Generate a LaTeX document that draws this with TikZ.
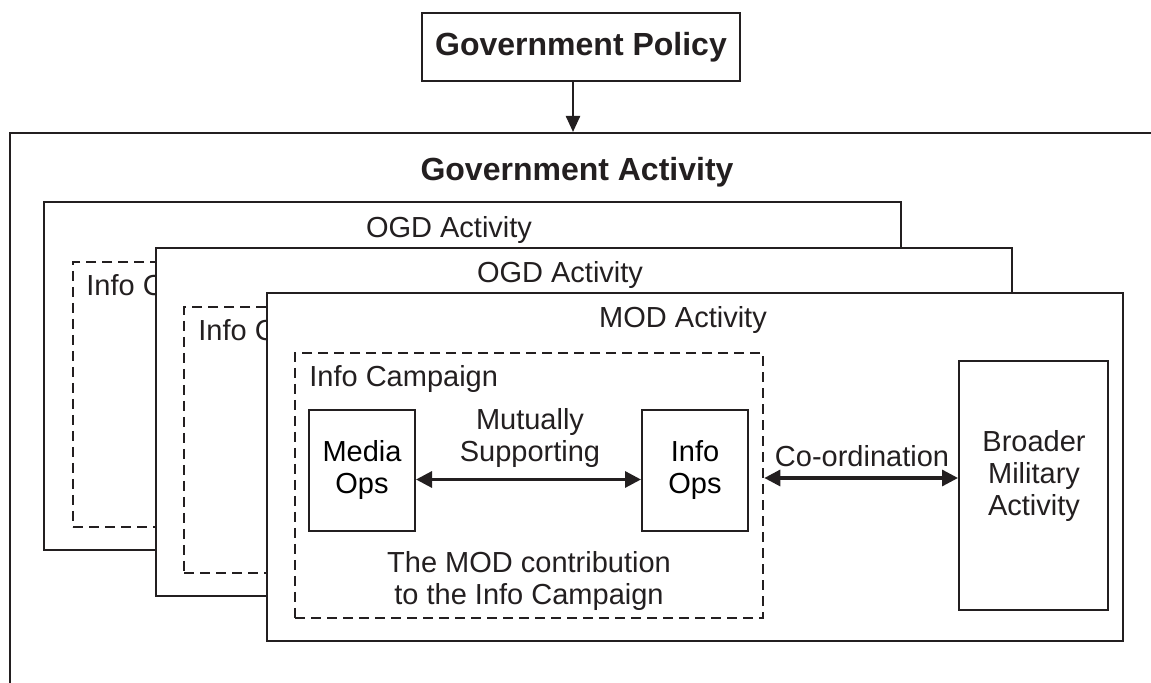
\documentclass[tikz,border=0pt]{standalone}
\usepackage{fontspec}
\setmainfont{Liberation Sans}
\usetikzlibrary{arrows.meta, fit, positioning}
\definecolor{ink}{HTML}{231F20}

\begin{document}
\begin{tikzpicture}[
    x=0.5pt, y=-0.5pt,
    frame/.style={rectangle, draw=ink, line width=1pt, fill=white, inner sep=0pt},
    campaign/.style={rectangle, draw=ink, line width=1.3pt, dash pattern=on 5pt off 3pt, inner sep=0pt},
    opsbox/.style={frame, align=center, font=\fontsize{14.5}{16}\selectfont,
                   minimum width=53pt, minimum height=60.5pt},
    lbl/.style={inner sep=0pt, align=center, text=ink, font=\fontsize{14.5}{16}\selectfont},
    title/.style={inner sep=0pt, text=ink, font=\fontsize{16}{19}\selectfont\bfseries},
    arr/.style={-{Triangle[length=8pt,width=7pt]}, line width=1.2pt, draw=ink, fill=ink},
    biarr/.style={{Triangle[length=8pt,width=8pt]}-{Triangle[length=8pt,width=8pt]},
                  line width=1.6pt, draw=ink, fill=ink}
]
\useasboundingbox (0,0) rectangle (1151,683);
\clip (0,0) rectangle (1151,683);

% policy feeding the whole of government
\node[frame, title, minimum width=159pt, minimum height=34pt] (policy) at (581,47) {Government Policy};
\node[frame, fit={(10,133) (1200,740)}] (govt) {};
\node[title, anchor=base] (govtlbl) at (577,181) {Government Activity};
\draw[arr] ([xshift=-4pt]policy.south) -- ([xshift=-4pt]policy.south |- govt.north);

% first OGD layer
\node[frame, fit={(44,202) (901,550)}] (ogda) {};
\node[lbl, anchor=base] (ogdalbl) at (449,238) {OGD Activity};
\node[campaign, fit={(73,262) (600,527)}] (campa) {};
\node[lbl, anchor=base west] (campalbl) at (86,296) {Info Campaign};

% second OGD layer
\node[frame, fit={(156,248) (1012,596)}] (ogdb) {};
\node[lbl, anchor=base] (ogdblbl) at (560,283) {OGD Activity};
\node[campaign, fit={(184,307) (700,573)}] (campb) {};
\node[lbl, anchor=base west] (campblbl) at (198,341) {Info Campaign};

% MOD layer
\node[frame, fit={(267,293) (1123,641)}] (mod) {};
\node[lbl, anchor=base] (modlbl) at (683,328) {MOD Activity};
\node[campaign, fit={(295,353) (763,618)}] (camp) {};
\node[lbl, anchor=base west] (camplbl) at (309,387) {Info Campaign};

\node[opsbox] (media) at (362,470.5) {Media\\Ops};
\node[opsbox] (infoops) at (695,470.5) {Info\\Ops};
\node[lbl] (mutual) at (530,438) {Mutually\\Supporting};
\node[lbl] (contrib) at (529,581) {The MOD contribution\\to the Info Campaign};

\node[frame, fit={(959,361) (1108,610)}] (broader) {};
\node[lbl] (broaderlbl) at (1034,476) {Broader\\Military\\Activity};

\draw[biarr] ([yshift=-4.5pt]media.east) -- ([yshift=-4.5pt]infoops.west);

\coordinate (coord) at ([yshift=3.75pt]camp.east);
\draw[biarr] (coord) -- (coord -| broader.west);
\node[lbl, anchor=base] (coordlbl) at (862,467) {Co-ordination};
\end{tikzpicture}
\end{document}
